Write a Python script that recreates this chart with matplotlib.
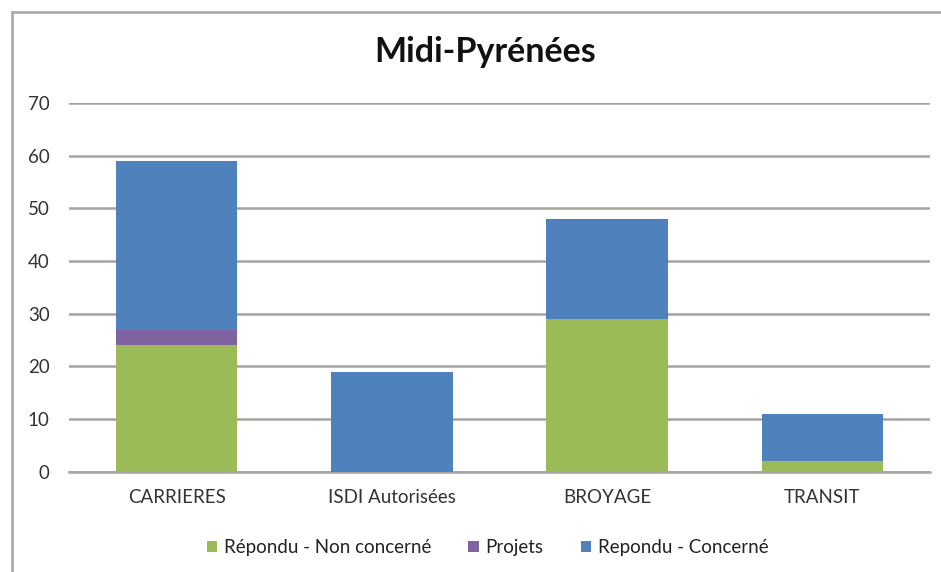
import numpy as np
import matplotlib.pyplot as plt
from matplotlib.patches import Rectangle

categories = ['CARRIERES', 'ISDI Autorisées', 'BROYAGE', 'TRANSIT']
non_concerne = [24, 0, 29, 2]
projets = [3, 0, 0, 0]
concerne = [32, 19, 19, 9]

green = '#9bbb59'
purple = '#8064a2'
blue = '#4f81bd'
grid_col = '#a8a29e'

plt.rcParams['font.family'] = ['Lato', 'DejaVu Sans']

fig = plt.figure(figsize=(9.41, 5.72), dpi=100)
ax = fig.add_axes([0.0733, 0.175, 0.915, 0.645])

x = np.arange(len(categories))
w = 0.565
bottom1 = np.array(non_concerne)
bottom2 = bottom1 + np.array(projets)
ax.bar(x, non_concerne, w, color=green, label='Répondu - Non concerné', zorder=3)
ax.bar(x, projets, w, bottom=bottom1, color=purple, label='Projets', zorder=3)
ax.bar(x, concerne, w, bottom=bottom2, color=blue, label='Repondu - Concerné', zorder=3)

ax.set_xlim(-0.5, len(categories) - 0.5)
ax.set_ylim(0, 70)
ax.set_yticks(range(0, 71, 10))
ax.yaxis.grid(True, color=grid_col, linewidth=1.8, zorder=0)
ax.set_axisbelow(True)
for s in ['top', 'right', 'left']:
    ax.spines[s].set_visible(False)
ax.spines['bottom'].set_color(grid_col)
ax.spines['bottom'].set_linewidth(1.8)
ax.tick_params(length=0, labelsize=13.5, colors='#333333')
ax.tick_params(axis='y', pad=14)
ax.tick_params(axis='x', pad=12)
ax.set_xticks(x)
ax.set_xticklabels(categories)

fig.text(0.516, 0.8916, 'Midi-Pyrénées', ha='center', va='baseline',
         fontsize=24.5, fontweight='bold', color='#111111')

fig.legend(loc='center', bbox_to_anchor=(0.518, 0.043), ncol=3, frameon=False,
           fontsize=13.5, handlelength=0.55, handleheight=0.55, handletextpad=0.35,
           columnspacing=2.0, labelcolor='#222222')

fig.patches.append(Rectangle((0.0128, -0.05), 1.2, 1.029, transform=fig.transFigure,
                             fill=False, edgecolor='#b0aaa6', linewidth=2))

fig.savefig('out.png', dpi=100)
